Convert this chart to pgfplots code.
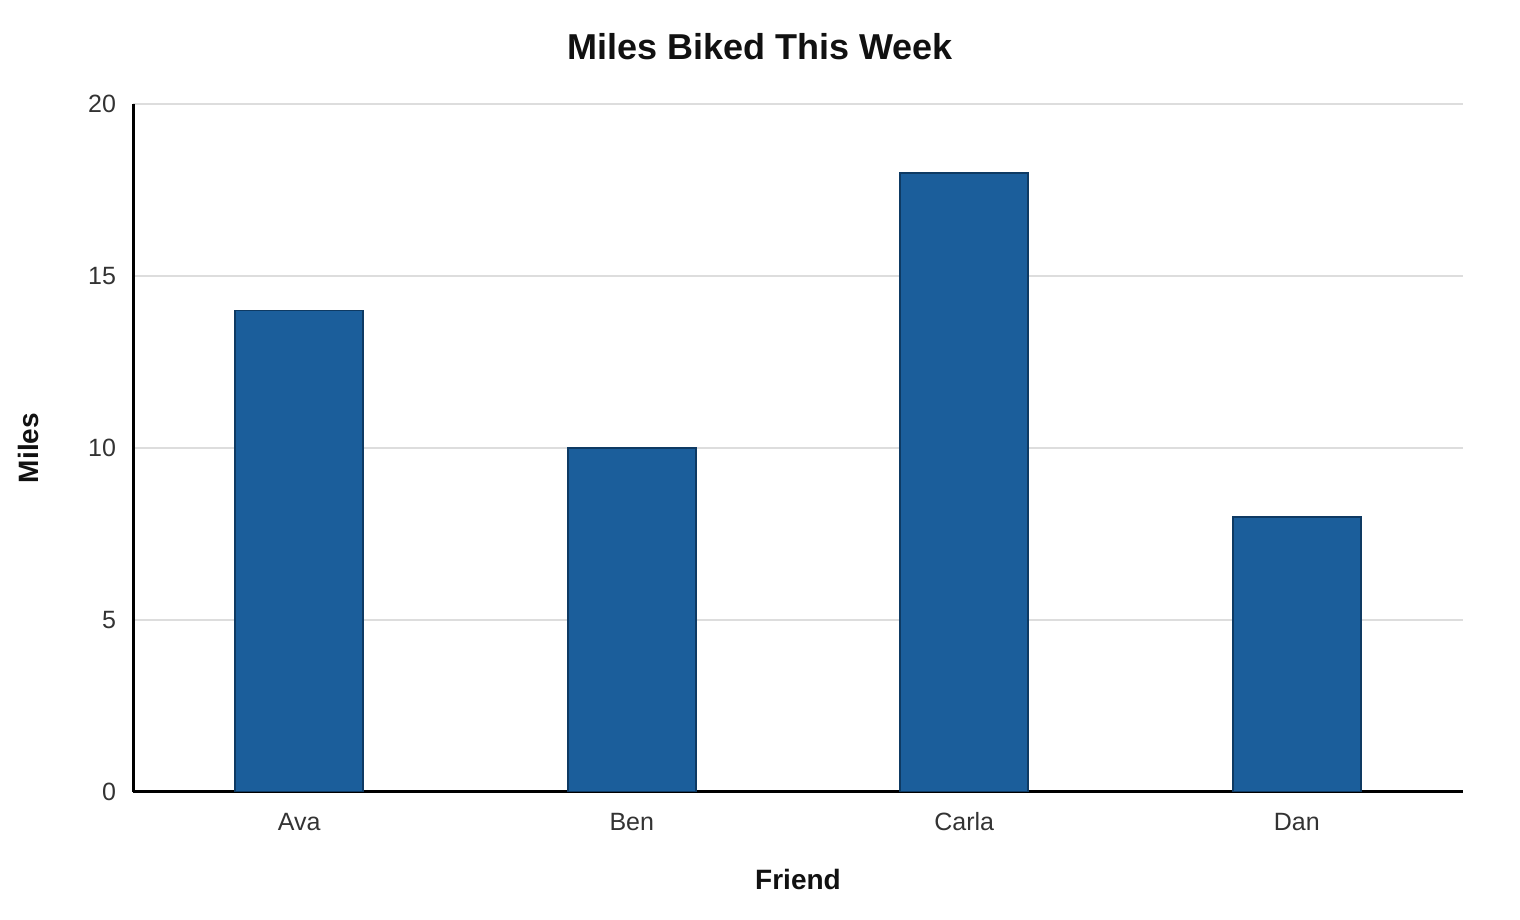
\documentclass[border=0pt]{standalone}
\usepackage{pgfplots}
\pgfplotsset{compat=1.18}
\usepackage{fontspec}
\setmainfont{Liberation Sans}
\definecolor{barfill}{HTML}{1B5E9B}
\definecolor{baredge}{HTML}{0E3A63}
\definecolor{gridc}{HTML}{DDDDDD}
\definecolor{tickc}{HTML}{333333}
\definecolor{labc}{HTML}{111111}
\begin{document}
\begin{tikzpicture}
\path[use as bounding box] (0,0) rectangle (760pt,460pt);
\node[font=\fontsize{18}{21}\selectfont\bfseries, text=labc] at (380pt,436.5pt) {Miles Biked This Week};
\begin{axis}[
  at={(66.5pt,64pt)}, anchor=south west,
  scale only axis, width=665pt, height=344pt,
  xmin=-0.5, xmax=3.5, ymin=0, ymax=20,
  xtick=data, xticklabels={Ava,Ben,Carla,Dan},
  ytick={0,5,10,15,20},
  axis x line*=bottom, axis y line*=left,
  axis line style={line width=1.5pt, black, -},
  major tick length=0pt,
  ymajorgrids, grid style={gridc, line width=1pt},
  tick label style={font=\fontsize{12.5}{15}\selectfont, text=tickc},
  /pgf/number format/assume math mode=true,
  yticklabel style={xshift=-5pt},
  xticklabel style={anchor=north, text height=9.5pt, text depth=2.5pt, yshift=-6pt},
  xlabel={Friend}, ylabel={Miles},
  label style={font=\fontsize{14}{16}\selectfont\bfseries, text=labc},
  xlabel style={at={(axis description cs:0.5,0)}, anchor=center, yshift=-43.5pt},
  ylabel style={at={(axis description cs:0,0.5)}, anchor=center, rotate=0, yshift=52.5pt},
]
\addplot[ybar, bar width=64pt, fill=barfill, draw=baredge, line width=0.8pt]
  coordinates {(0,14) (1,10) (2,18) (3,8)};
\end{axis}
\end{tikzpicture}
\end{document}
